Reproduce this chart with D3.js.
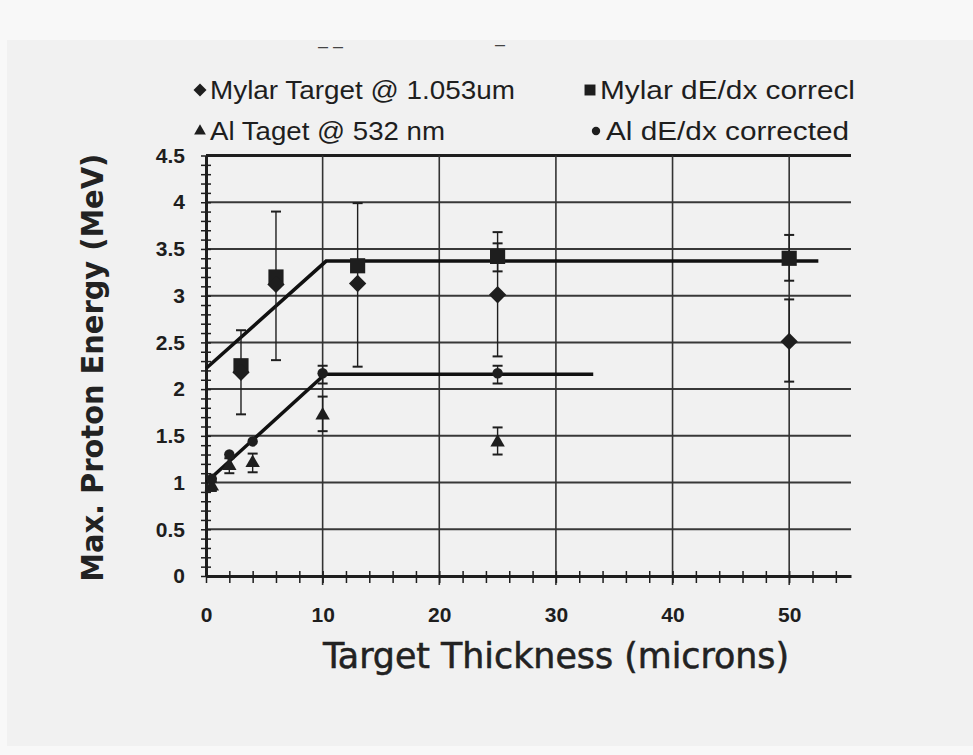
<!DOCTYPE html>
<html>
<head>
<meta charset="utf-8">
<script src="https://cdn.jsdelivr.net/npm/d3@7"></script>
<style>
  body { margin: 0; background: #f8f8f8; }
  svg { display: block; }
</style>
</head>
<body>
<svg id="chart"></svg>
<script>
// values
var mylarX = [3, 6, 13, 25, 50];
var mylarE = [2.18, 3.12, 3.13, 3.01, 2.51];
var mylarLo = [1.73, 2.31, 2.24, 2.35, 2.08];
var mylarHi = [2.63, 3.9, 3.99, 3.68, 2.96];

var mylarCorrX = [3, 6, 13, 25, 50];
var mylarCorrE = [2.25, 3.2, 3.32, 3.42, 3.4];
var mylarCorrLo = [null, null, null, 3.26, 3.16];
var mylarCorrHi = [null, null, null, 3.56, 3.65];

var alX = [0.5, 2, 4, 10, 25];
var alE = [0.96, 1.18, 1.21, 1.72, 1.43];
var alLo = [0.91, 1.1, 1.11, 1.55, 1.3];
var alHi = [1.01, 1.26, 1.31, 1.92, 1.59];

var alCorrX = [0.5, 2, 4, 10, 25];
var alCorrE = [1.04, 1.3, 1.44, 2.17, 2.17];
var alCorrLo = [null, null, null, 2.06, 2.06];
var alCorrHi = [null, null, null, 2.25, 2.25];

// fitted guide lines
var mylarFitX = [0, 10.3, 52.5];
var mylarFitE = [2.22, 3.37, 3.37];
var alFitX = [0, 10.2, 33.2];
var alFitE = [1.0, 2.16, 2.16];

var xMajor = [0, 10, 20, 30, 40, 50];
var yMajor = [0, 0.5, 1, 1.5, 2, 2.5, 3, 3.5, 4, 4.5];

var legendNames = ["Mylar Target @ 1.053um", "Mylar dE/dx correcl", "Al Taget @ 532 nm", "Al dE/dx corrected"];

var dimensions = {
  width: 973,
  height: 755,
  margin: { top: 155.5, right: 122, bottom: 179, left: 206 },
};

var svg = d3.select("#chart")
  .attr("width", dimensions.width)
  .attr("height", dimensions.height);

// scanned paper
svg.append("rect")
  .attr("x", 7).attr("y", 40)
  .attr("width", dimensions.width - 7).attr("height", 706)
  .attr("fill", "#f1f1f1");

var xScale = d3.scaleLinear()
  .domain([0, 55.3])
  .range([dimensions.margin.left, dimensions.width - dimensions.margin.right]);

var yScale = d3.scaleLinear()
  .domain([0, 4.5])
  .range([dimensions.height - dimensions.margin.bottom, dimensions.margin.top]);

var ink = "#1e1e1e";

// horizontal grid
svg.append("g")
  .selectAll("line")
  .data(yMajor.filter((d) => d > 0))
  .enter()
  .append("line")
  .attr("x1", xScale(0))
  .attr("x2", xScale(55.3))
  .attr("y1", (d) => yScale(d))
  .attr("y2", (d) => yScale(d))
  .attr("stroke", (d) => (d == 4.5 ? ink : "#383838"))
  .attr("stroke-width", (d) => (d == 4.5 ? 3 : 2));

// vertical grid
svg.append("g")
  .selectAll("line")
  .data(xMajor.filter((d) => d > 0))
  .enter()
  .append("line")
  .attr("x1", (d) => xScale(d))
  .attr("x2", (d) => xScale(d))
  .attr("y1", yScale(4.5))
  .attr("y2", yScale(0) + 9)
  .attr("stroke", "#333")
  .attr("stroke-width", 1.6);

// axes with minor ticks crossing the line
var yMinor = d3.range(0, 46).map((i) => i / 10);
var yAxis = svg.append("g")
  .attr("transform", `translate(${xScale(0)},0)`)
  .call(d3.axisLeft(yScale).tickValues(yMinor).tickSize(5).tickSizeOuter(0).tickFormat(""));
yAxis.selectAll(".tick line").attr("x2", -5).attr("x1", 5).attr("stroke", ink).attr("stroke-width", 1.5);
yAxis.select(".domain").attr("stroke", ink).attr("stroke-width", 3);

var xMinor = d3.range(0, 28).map((i) => i * 2);
var xAxis = svg.append("g")
  .attr("transform", `translate(0,${yScale(0)})`)
  .call(d3.axisBottom(xScale).tickValues(xMinor).tickSize(7).tickSizeOuter(0).tickFormat(""));
xAxis.selectAll(".tick line").attr("y1", -5).attr("stroke", ink).attr("stroke-width", 1.5);
xAxis.select(".domain").attr("stroke", ink).attr("stroke-width", 3);

// tick labels
var yLab = svg.append("g")
  .attr("transform", `translate(${xScale(0)},0)`)
  .call(d3.axisLeft(yScale).tickValues(yMajor).tickSize(0).tickPadding(21).tickFormat((d) => String(d)));
yLab.select(".domain").remove();
yLab.selectAll("text")
  .attr("font-family", "Liberation Sans, Arial, sans-serif")
  .attr("font-weight", "bold")
  .attr("font-size", 21)
  .attr("fill", ink);

var xLab = svg.append("g")
  .attr("transform", `translate(0,${yScale(0)})`)
  .call(d3.axisBottom(xScale).tickValues(xMajor).tickSize(0).tickPadding(31).tickFormat((d) => String(d)));
xLab.select(".domain").remove();
xLab.selectAll("text")
  .attr("font-family", "Liberation Sans, Arial, sans-serif")
  .attr("font-weight", "bold")
  .attr("font-size", 21)
  .attr("fill", ink);

// fit lines
var line = d3.line().x((d) => xScale(d[0])).y((d) => yScale(d[1]));
[[mylarFitX, mylarFitE], [alFitX, alFitE]].forEach(function (f) {
  svg.append("path")
    .attr("d", line(d3.zip(f[0], f[1])))
    .attr("fill", "none")
    .attr("stroke", "#111")
    .attr("stroke-width", 3.5);
});

// error bars
function errorBars(xs, lo, hi) {
  var rows = xs.map((x, i) => ({ x: x, lo: lo[i], hi: hi[i] })).filter((d) => d.lo != null);
  var g = svg.append("g").attr("stroke", ink).attr("stroke-width", 1.4);
  g.selectAll(".bar").data(rows).enter().append("line")
    .attr("x1", (d) => xScale(d.x)).attr("x2", (d) => xScale(d.x))
    .attr("y1", (d) => yScale(d.lo)).attr("y2", (d) => yScale(d.hi));
  ["lo", "hi"].forEach(function (k) {
    g.selectAll(".cap" + k).data(rows).enter().append("line")
      .attr("x1", (d) => xScale(d.x) - 5).attr("x2", (d) => xScale(d.x) + 5)
      .attr("y1", (d) => yScale(d[k])).attr("y2", (d) => yScale(d[k]))
      .attr("stroke-width", 2);
  });
}
errorBars(mylarX, mylarLo, mylarHi);
errorBars(mylarCorrX, mylarCorrLo, mylarCorrHi);
errorBars(alX, alLo, alHi);
errorBars(alCorrX, alCorrLo, alCorrHi);

// markers
var shapes = [
  { type: d3.symbolSquare, size: 150, rot: 45 },
  { type: d3.symbolSquare, size: 230, rot: 0 },
  { type: d3.symbolTriangle, size: 90, rot: 0 },
  { type: d3.symbolCircle, size: 85, rot: 0 },
];
var seriesX = [mylarX, mylarCorrX, alX, alCorrX];
var seriesE = [mylarE, mylarCorrE, alE, alCorrE];
var drawOrder = [1, 0, 2, 3];
drawOrder.forEach(function (s) {
  svg.append("g")
    .selectAll("path")
    .data(d3.zip(seriesX[s], seriesE[s]))
    .enter()
    .append("path")
    .attr("d", d3.symbol().type(shapes[s].type).size(shapes[s].size))
    .attr("transform", (d) => `translate(${xScale(d[0])},${yScale(d[1])}) rotate(${shapes[s].rot})`)
    .attr("fill", ink);
});

// legend
var legendPos = [[200, 90], [590, 90], [200, 131], [596, 131]];
var legendLen = [305, 255, 235, 243];
var legendSize = [85, 120, 60, 55];
legendNames.forEach(function (name, i) {
  var g = svg.append("g").attr("transform", `translate(${legendPos[i][0]},${legendPos[i][1]})`);
  g.append("path")
    .attr("d", d3.symbol().type(shapes[i].type).size(legendSize[i]))
    .attr("transform", `rotate(${shapes[i].rot})`)
    .attr("fill", ink);
  g.append("text")
    .attr("x", 10)
    .attr("y", 9)
    .attr("font-family", "Liberation Sans, Arial, sans-serif")
    .attr("font-size", 25)
    .attr("fill", ink)
    .attr("textLength", legendLen[i])
    .attr("lengthAdjust", "spacingAndGlyphs")
    .text(name);
});

// leftover marks at the top of the scan
svg.append("text").attr("x", 318).attr("y", 52).attr("font-family", "Liberation Sans, Arial, sans-serif")
  .attr("font-size", 18).attr("fill", "#444").text("\u2013  \u2013");
svg.append("text").attr("x", 495).attr("y", 50).attr("font-family", "Liberation Sans, Arial, sans-serif")
  .attr("font-size", 18).attr("fill", "#444").text("\u2013");

// axis titles
svg.append("text")
  .attr("transform", `translate(103,${(yScale(0) + yScale(4.5)) / 2 + 2}) rotate(-90)`)
  .attr("text-anchor", "middle")
  .attr("font-family", "DejaVu Sans, Verdana, sans-serif")
  .attr("font-weight", "bold")
  .attr("font-size", 30)
  .attr("fill", "#222")
  .attr("textLength", 428)
  .attr("lengthAdjust", "spacingAndGlyphs")
  .text("Max. Proton Energy (MeV)");

svg.append("text")
  .attr("x", 556)
  .attr("y", 668)
  .attr("text-anchor", "middle")
  .attr("font-family", "DejaVu Sans Condensed, DejaVu Sans, sans-serif")
  .attr("font-size", 35)
  .attr("fill", "#222")
  .attr("stroke", "#222")
  .attr("stroke-width", 0.5)
  .attr("textLength", 466)
  .attr("lengthAdjust", "spacingAndGlyphs")
  .text("Target Thickness (microns)");
</script>
</body>
</html>
